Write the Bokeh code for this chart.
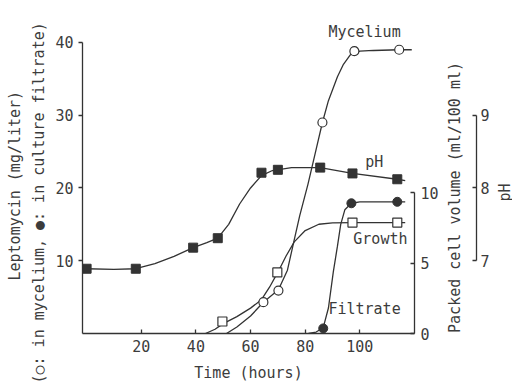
import math
from bokeh.plotting import figure
from bokeh.models import Range1d, LinearAxis, FixedTicker, Label, Title
from bokeh.layouts import row
from bokeh.embed import file_html
from bokeh.resources import INLINE

# ---------------- data ----------------
# pH (filled squares)
ph_t = [0, 18, 39, 48, 64, 70, 85.5, 97.3, 113.7]
ph_v = [6.89, 6.89, 7.18, 7.31, 8.21, 8.25, 8.28, 8.20, 8.12]
ph_curve_t = [0, 10, 18, 25, 32, 39, 44, 48, 52, 56, 60, 64, 68, 75, 85.5, 97.3, 113.7, 116.6]
ph_curve_v = [6.89, 6.88, 6.89, 6.96, 7.06, 7.18, 7.25, 7.31, 7.50, 7.78, 8.00, 8.17, 8.24, 8.28, 8.28, 8.20, 8.12, 8.10]

# Growth, packed cell volume (open squares)
growth_t = [49.7, 69.8, 97.3, 113.7]
growth_v = [0.85, 4.33, 7.87, 7.87]
growth_curve_t = [43.5, 47, 50, 55, 60, 64, 67, 70, 73, 76, 80, 85, 90, 97.3, 113.7, 116.6]
growth_curve_v = [0.0, 0.3, 0.7, 1.2, 1.8, 2.4, 3.3, 4.35, 5.5, 6.5, 7.3, 7.75, 7.85, 7.87, 7.87, 7.87]

# Leptomycin in mycelium (open circles)
myc_t = [64.7, 70.2, 86.3, 98.0, 114.4]
myc_v = [4.3, 5.9, 29.0, 38.8, 39.0]
myc_curve_t = [51.2, 55, 60, 64.7, 70.2, 73.5, 75.7, 78, 81, 84, 86.3, 88.5, 91.8, 94, 96.5, 100, 105, 114.4, 119]
myc_curve_v = [0.0, 0.9, 2.4, 4.3, 6.0, 8.7, 12.4, 16.2, 20.5, 25.3, 29.0, 32.0, 35.3, 37.0, 38.3, 38.8, 38.9, 39.0, 39.0]

# Leptomycin in culture filtrate (filled circles)
filt_t = [86.6, 96.9, 113.7]
filt_v = [0.7, 17.9, 18.1]
filt_curve_t = [81.2, 84, 86.6, 88.5, 90.3, 91.8, 93, 94.5, 96.9, 100, 113.7, 116.6]
filt_curve_v = [0.0, 0.2, 0.8, 3.5, 8.5, 12.0, 15.0, 17.0, 17.9, 18.1, 18.1, 18.1]

x_ticks = [20, 40, 60, 80, 100]
lepto_ticks = [10, 20, 30, 40]
pcv_ticks = [0, 5, 10]
ph_ticks = [7, 8, 9]

lepto_title = "Leptomycin (mg/liter)"
lepto_subtitle = "(○: in mycelium, ●: in culture filtrate)"
time_title = "Time (hours)"
pcv_title = "Packed cell volume (ml/100 ml)"
ph_title = "pH"

# ---------------- styling ----------------
FONT = "DejaVu Sans Mono"
INK = "#333333"
TXT = "#3c3c3c"
FS = "15px"
H = 385


def blank(fig):
    fig.outline_line_color = None
    fig.xgrid.visible = False
    fig.ygrid.visible = False
    fig.background_fill_color = "white"
    fig.border_fill_color = "white"


def style_axis(ax):
    ax.axis_line_color = INK
    ax.axis_line_width = 1.3
    ax.major_tick_line_color = INK
    ax.major_tick_line_width = 1.3
    ax.minor_tick_line_color = None
    ax.major_label_text_font = FONT
    ax.major_label_text_font_size = FS
    ax.major_label_text_color = TXT
    ax.axis_label_text_font = FONT
    ax.axis_label_text_font_size = FS
    ax.axis_label_text_color = TXT
    ax.axis_label_text_font_style = "normal"


def label(fig, x, y, text, align="left", angle=0.0):
    fig.add_layout(Label(x=x, y=y, text=text, text_font=FONT, text_font_size=FS,
                         text_color=TXT, text_align=align, text_baseline="middle",
                         angle=angle))


# ---- main plot: frame from x=82 to 414, y=20 to 333 ----
p = figure(width=446, height=H, output_backend="svg", toolbar_location=None,
           x_range=Range1d(-1.5, 120), y_range=Range1d(0, 43.02),
           min_border_left=82, min_border_right=32, min_border_top=20, min_border_bottom=52)
p.extra_y_ranges = {"pcv": Range1d(0, 22.2), "ph": Range1d(6, 10.302)}
blank(p)

xa = p.xaxis[0]
style_axis(xa)
xa.ticker = FixedTicker(ticks=x_ticks)
xa.major_tick_in = 4
xa.major_tick_out = 0
xa.major_label_standoff = 6
xa.axis_label = time_title
xa.axis_label_standoff = 9

ya = p.yaxis[0]
style_axis(ya)
ya.ticker = FixedTicker(ticks=lepto_ticks)
ya.bounds = (0, 40)
ya.major_tick_in = 0
ya.major_tick_out = 4
ya.major_label_standoff = 5

# two-line y title as side titles (inner line first); left-aligned, offset from frame bottom
for txt, off, so in ((lepto_subtitle, -50, 8), (lepto_title, 53, 0)):
    p.add_layout(Title(text=txt, align="left", vertical_align="middle", offset=off,
                       standoff=so, text_font=FONT, text_font_size=FS,
                       text_font_style="normal", text_color=TXT), "left")

pcv_axis = LinearAxis(y_range_name="pcv", ticker=FixedTicker(ticks=pcv_ticks), bounds=(0, 10))
style_axis(pcv_axis)
pcv_axis.major_tick_in = 4
pcv_axis.major_tick_out = 0
pcv_axis.major_label_standoff = 6
p.add_layout(pcv_axis, "right")

LW = 1.3
p.line(ph_curve_t, ph_curve_v, y_range_name="ph", line_color=INK, line_width=LW)
p.line(growth_curve_t, growth_curve_v, y_range_name="pcv", line_color=INK, line_width=LW)
p.line(myc_curve_t, myc_curve_v, line_color=INK, line_width=LW)
p.line(filt_curve_t, filt_curve_v, line_color=INK, line_width=LW)

p.scatter(ph_t, ph_v, y_range_name="ph", marker="square", size=9,
          fill_color=INK, line_color=INK, line_width=1)
p.scatter(growth_t, growth_v, y_range_name="pcv", marker="square", size=9,
          fill_color="white", line_color=INK, line_width=1.2)
p.scatter(myc_t, myc_v, marker="circle", size=9,
          fill_color="white", line_color=INK, line_width=1.2)
p.scatter(filt_t, filt_v, marker="circle", size=9,
          fill_color=INK, line_color=INK, line_width=1)

label(p, 88.5, 41.4, "Mycelium")
label(p, 102, 23.6, "pH")
label(p, 97.6, 13.0, "Growth")
label(p, 88.5, 3.3, "Filtrate")

# ---- strip with the PCV title and the pH axis (axis line at x=479) ----
pb = figure(width=46, height=H, output_backend="svg", toolbar_location=None,
            x_range=Range1d(0, 33), y_range=Range1d(6, 10.302),
            x_axis_location=None, y_axis_location=None,
            min_border_left=0, min_border_right=13, min_border_top=20, min_border_bottom=52)
blank(pb)
ph_axis = LinearAxis(ticker=FixedTicker(ticks=ph_ticks), bounds=(7, 9))
style_axis(ph_axis)
ph_axis.major_tick_in = 4
ph_axis.major_tick_out = 0
ph_axis.major_label_standoff = 4
pb.add_layout(ph_axis, "right")
label(pb, 9, 6 + (333 - 197) / 72.75, pcv_title, align="center", angle=math.pi / 2)

# ---- right strip: pH title ----
pc = figure(width=20, height=H, output_backend="svg", toolbar_location=None,
            x_range=Range1d(0, 20), y_range=Range1d(H - 333, H - 20),
            x_axis_location=None, y_axis_location=None,
            min_border_left=0, min_border_right=0, min_border_top=20, min_border_bottom=52)
blank(pc)
label(pc, 12, H - 192, ph_title, align="center", angle=math.pi / 2)

layout = row(p, pb, pc, spacing=0)
open("out.html", "w").write(file_html(layout, INLINE))
